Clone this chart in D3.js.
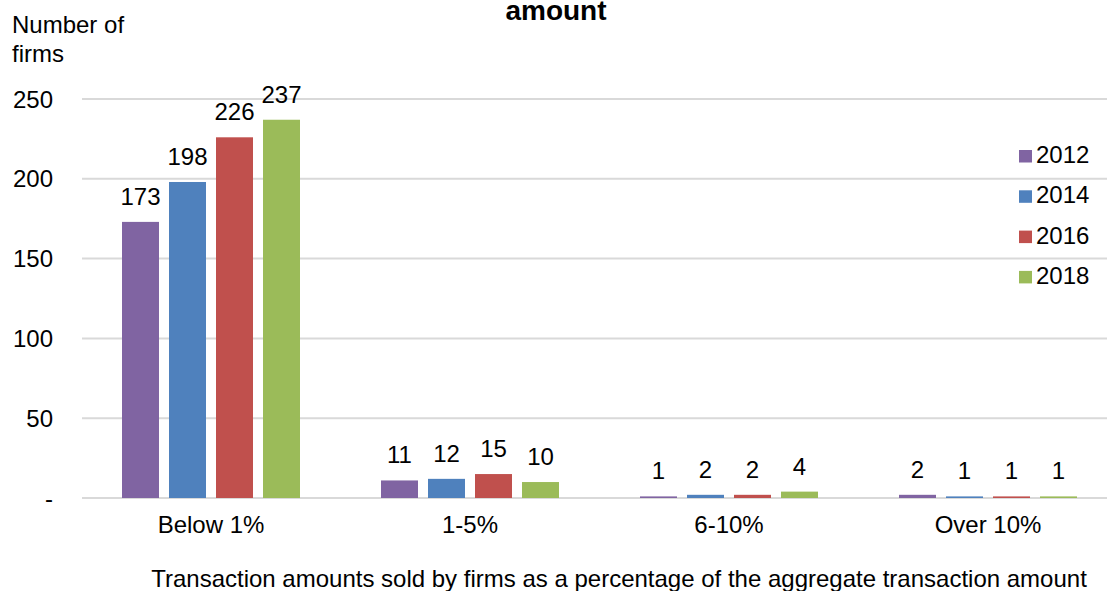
<!DOCTYPE html>
<html><head><meta charset="utf-8">
<script src="https://cdn.jsdelivr.net/npm/d3@7"></script>
<style>body{margin:0;background:#fff;overflow:hidden}svg{display:block}text{font-family:"Liberation Sans",Arial,sans-serif;fill:#000}</style>
</head><body><svg id="c" width="1107" height="591"></svg>
<script>
const categories = ["Below 1%", "1-5%", "6-10%", "Over 10%"];
const years = ["2012", "2014", "2016", "2018"];
const v2012 = [173, 11, 1, 2];
const v2014 = [198, 12, 2, 1];
const v2016 = [226, 15, 2, 1];
const v2018 = [237, 10, 4, 1];
const yTicks = [0, 50, 100, 150, 200, 250];
const yTickLabels = ["-", "50", "100", "150", "200", "250"];
const colors = ["#8064A2", "#4F81BD", "#C0504D", "#9BBB59"];
const series = [v2012, v2014, v2016, v2018];

const svg = d3.select("#c");
const y = d3.scaleLinear().domain([0, 250]).range([498, 99]);
const x0 = d3.scaleBand().domain(categories).range([81.5, 1117.5]).padding(0);
const x1 = d3.scaleBand().domain(years).range([0, x0.bandwidth()]).paddingInner(10/47).paddingOuter(0.8617);
const color = d3.scaleOrdinal().domain(years).range(colors);

// gridlines
svg.append("g").selectAll("line").data(yTicks).join("line")
  .attr("x1", 82).attr("x2", 1117)
  .attr("y1", d => y(d)).attr("y2", d => y(d))
  .attr("stroke", "#d9d9d9").attr("stroke-width", 2);

// y tick labels
svg.append("g").selectAll("text").data(yTicks).join("text")
  .attr("x", 53).attr("y", d => y(d) + 8.5)
  .attr("text-anchor", "end").attr("font-size", 24)
  .text((d, i) => yTickLabels[i]);

// bars
const data = [];
categories.forEach((c, ci) => years.forEach((yr, yi) => data.push({c, yr, v: series[yi][ci]})));
svg.append("g").selectAll("rect").data(data).join("rect")
  .attr("x", d => x0(d.c) + x1(d.yr))
  .attr("width", x1.bandwidth())
  .attr("y", d => y(d.v))
  .attr("height", d => y(0) - y(d.v))
  .attr("fill", d => color(d.yr));

// value labels
svg.append("g").selectAll("text").data(data).join("text")
  .attr("x", d => x0(d.c) + x1(d.yr) + x1.bandwidth()/2)
  .attr("y", d => y(d.v) - 17)
  .attr("text-anchor", "middle").attr("font-size", 24)
  .text(d => d.v);

// x labels
svg.append("g").selectAll("text").data(categories).join("text")
  .attr("x", d => x0(d) + x0.bandwidth()/2).attr("y", 533)
  .attr("text-anchor", "middle").attr("font-size", 24)
  .text(d => d);

// axis titles
svg.append("text").attr("x", 619).attr("y", 587).attr("text-anchor", "middle").attr("font-size", 24)
  .text("Transaction amounts sold by firms as a percentage of the aggregate transaction amount");
svg.append("text").attr("x", 12).attr("y", 33).attr("font-size", 24).text("Number of");
svg.append("text").attr("x", 12).attr("y", 62).attr("font-size", 24).text("firms");

// title
svg.append("text").attr("x", 556).attr("y", 20).attr("text-anchor", "middle").attr("font-size", 28).attr("font-weight", "bold").text("amount");

// legend
const lg = svg.append("g").selectAll("g").data(years).join("g")
  .attr("transform", (d, i) => `translate(1019, ${150 + i*40.3})`);
lg.append("rect").attr("x", 0).attr("y", 0).attr("width", 13).attr("height", 12.5).attr("fill", d => color(d));
lg.append("text").attr("x", 17).attr("y", 13).attr("font-size", 24).text(d => d);
</script></body></html>
